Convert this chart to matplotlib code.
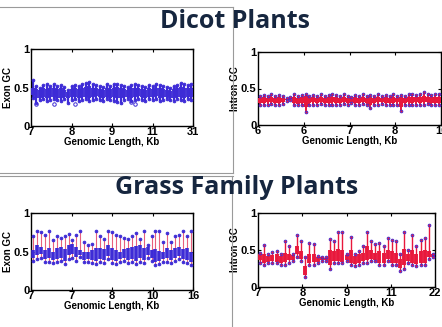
import numpy as np
import matplotlib.pyplot as plt

# Dicot exon GC per length bin (compact box plot: whisker low, q1, q3, whisker high)
dicot_exon_lo = [0.37, 0.30, 0.34, 0.35, 0.33, 0.34, 0.35, 0.34, 0.33, 0.35, 0.30, 0.34, 0.35, 0.33, 0.34, 0.35,
                 0.33, 0.34, 0.35, 0.34, 0.33, 0.35, 0.34, 0.33, 0.31, 0.30, 0.34, 0.35, 0.33, 0.34, 0.35, 0.34,
                 0.33, 0.35, 0.34, 0.35, 0.33, 0.34, 0.35, 0.34, 0.33, 0.35, 0.34, 0.33, 0.35, 0.34]
dicot_exon_q1 = [0.40, 0.37, 0.37, 0.38, 0.37, 0.38, 0.38, 0.37, 0.37, 0.38, 0.37, 0.38, 0.38, 0.37, 0.38, 0.38,
                 0.37, 0.38, 0.39, 0.38, 0.37, 0.38, 0.37, 0.38, 0.37, 0.36, 0.38, 0.38, 0.37, 0.38, 0.39, 0.38,
                 0.37, 0.38, 0.38, 0.39, 0.37, 0.38, 0.38, 0.37, 0.37, 0.38, 0.38, 0.37, 0.38, 0.38]
dicot_exon_q3 = [0.50, 0.48, 0.47, 0.49, 0.48, 0.49, 0.50, 0.48, 0.49, 0.47, 0.44, 0.48, 0.49, 0.48, 0.50, 0.51,
                 0.52, 0.50, 0.49, 0.48, 0.47, 0.49, 0.48, 0.50, 0.51, 0.50, 0.48, 0.47, 0.49, 0.50, 0.49, 0.48,
                 0.47, 0.49, 0.48, 0.50, 0.49, 0.48, 0.47, 0.46, 0.48, 0.49, 0.51, 0.50, 0.49, 0.50]
dicot_exon_hi = [0.60, 0.52, 0.50, 0.53, 0.54, 0.52, 0.54, 0.52, 0.53, 0.51, 0.47, 0.52, 0.53, 0.52, 0.55, 0.56,
                 0.57, 0.54, 0.53, 0.52, 0.51, 0.54, 0.52, 0.55, 0.55, 0.53, 0.52, 0.51, 0.53, 0.54, 0.53, 0.52,
                 0.51, 0.53, 0.52, 0.54, 0.53, 0.52, 0.51, 0.50, 0.52, 0.53, 0.56, 0.54, 0.53, 0.55]
dicot_exon_out_idx = [1, 6, 12, 28, 29]
dicot_exon_out_val = [0.29, 0.29, 0.29, 0.31, 0.29]
dicot_exon_ticks = ['7', '8', '9', '11', '31']

# Dicot intron GC
dicot_intron_lo = [0.28, 0.27, 0.28, 0.29, 0.28, 0.27, 0.29, 0.33, 0.34, 0.28, 0.27, 0.28, 0.18, 0.27, 0.28, 0.27,
                   0.29, 0.28, 0.27, 0.28, 0.27, 0.28, 0.29, 0.27, 0.30, 0.28, 0.27, 0.29, 0.28, 0.23, 0.27, 0.28,
                   0.29, 0.27, 0.28, 0.27, 0.28, 0.19, 0.27, 0.28, 0.27, 0.28, 0.27, 0.28, 0.29, 0.27, 0.28, 0.27]
dicot_intron_q1 = [0.30, 0.30, 0.31, 0.31, 0.30, 0.30, 0.31, 0.34, 0.35, 0.30, 0.29, 0.30, 0.24, 0.30, 0.31, 0.30,
                   0.31, 0.30, 0.30, 0.31, 0.30, 0.30, 0.31, 0.30, 0.32, 0.30, 0.30, 0.31, 0.30, 0.27, 0.30, 0.31,
                   0.31, 0.30, 0.30, 0.30, 0.31, 0.25, 0.30, 0.31, 0.30, 0.31, 0.30, 0.31, 0.31, 0.30, 0.30, 0.30]
dicot_intron_q3 = [0.37, 0.38, 0.37, 0.38, 0.37, 0.38, 0.37, 0.36, 0.37, 0.38, 0.37, 0.38, 0.40, 0.37, 0.38, 0.37,
                   0.38, 0.37, 0.38, 0.39, 0.38, 0.37, 0.38, 0.37, 0.36, 0.38, 0.37, 0.38, 0.37, 0.38, 0.37, 0.38,
                   0.37, 0.38, 0.37, 0.38, 0.37, 0.38, 0.37, 0.38, 0.39, 0.38, 0.39, 0.40, 0.39, 0.38, 0.39, 0.38]
dicot_intron_hi = [0.40, 0.41, 0.40, 0.42, 0.40, 0.41, 0.40, 0.37, 0.38, 0.42, 0.40, 0.41, 0.43, 0.40, 0.41, 0.40,
                   0.42, 0.40, 0.41, 0.43, 0.41, 0.40, 0.42, 0.40, 0.38, 0.41, 0.40, 0.42, 0.40, 0.41, 0.40, 0.42,
                   0.40, 0.41, 0.40, 0.42, 0.40, 0.41, 0.40, 0.42, 0.43, 0.41, 0.43, 0.45, 0.43, 0.41, 0.43, 0.42]
dicot_intron_ticks = ['6', '6', '7', '8', '10']

# Grass exon GC
grass_exon_lo = [0.38, 0.40, 0.42, 0.36, 0.37, 0.35, 0.36, 0.38, 0.34, 0.40, 0.42, 0.38, 0.43, 0.36, 0.37, 0.35,
                 0.34, 0.36, 0.35, 0.40, 0.35, 0.34, 0.36, 0.38, 0.35, 0.36, 0.34, 0.37, 0.35, 0.42, 0.38, 0.33,
                 0.34, 0.36, 0.37, 0.35, 0.38, 0.40, 0.36, 0.35, 0.32]
grass_exon_q1 = [0.42, 0.45, 0.47, 0.40, 0.41, 0.39, 0.40, 0.42, 0.38, 0.45, 0.47, 0.43, 0.46, 0.39, 0.40, 0.39,
                 0.38, 0.40, 0.39, 0.44, 0.39, 0.38, 0.40, 0.41, 0.39, 0.40, 0.38, 0.41, 0.39, 0.45, 0.41, 0.37,
                 0.38, 0.40, 0.41, 0.39, 0.42, 0.44, 0.40, 0.39, 0.36]
grass_exon_q3 = [0.52, 0.58, 0.56, 0.52, 0.55, 0.50, 0.54, 0.56, 0.53, 0.58, 0.60, 0.56, 0.52, 0.50, 0.49, 0.52,
                 0.55, 0.54, 0.53, 0.58, 0.54, 0.52, 0.50, 0.53, 0.55, 0.56, 0.57, 0.58, 0.55, 0.56, 0.52, 0.53,
                 0.51, 0.50, 0.54, 0.52, 0.55, 0.56, 0.53, 0.55, 0.50]
grass_exon_hi = [0.70, 0.76, 0.75, 0.72, 0.76, 0.65, 0.70, 0.68, 0.70, 0.73, 0.65, 0.72, 0.76, 0.62, 0.58, 0.60,
                 0.76, 0.70, 0.66, 0.76, 0.75, 0.72, 0.70, 0.68, 0.66, 0.70, 0.74, 0.66, 0.76, 0.58, 0.70, 0.76,
                 0.76, 0.62, 0.74, 0.62, 0.70, 0.72, 0.76, 0.70, 0.76]
grass_exon_ticks = ['7', '7', '8', '10', '16']

# Grass intron GC
grass_intron_lo = [0.33, 0.30, 0.32, 0.33, 0.32, 0.30, 0.30, 0.33, 0.35, 0.40, 0.35, 0.14, 0.30, 0.30, 0.32, 0.35,
                   0.35, 0.25, 0.32, 0.32, 0.32, 0.35, 0.30, 0.28, 0.30, 0.32, 0.33, 0.35, 0.35, 0.30, 0.30, 0.35,
                   0.30, 0.30, 0.22, 0.25, 0.32, 0.30, 0.28, 0.30, 0.30, 0.38, 0.40]
grass_intron_q1 = [0.36, 0.33, 0.34, 0.35, 0.34, 0.33, 0.34, 0.36, 0.37, 0.45, 0.38, 0.16, 0.33, 0.34, 0.34, 0.36,
                   0.36, 0.30, 0.35, 0.35, 0.34, 0.37, 0.33, 0.31, 0.33, 0.35, 0.36, 0.38, 0.37, 0.33, 0.33, 0.38,
                   0.33, 0.33, 0.26, 0.30, 0.35, 0.33, 0.31, 0.33, 0.33, 0.40, 0.41]
grass_intron_q3 = [0.44, 0.44, 0.42, 0.43, 0.44, 0.42, 0.46, 0.45, 0.43, 0.55, 0.48, 0.28, 0.45, 0.44, 0.40, 0.40,
                   0.39, 0.50, 0.48, 0.52, 0.50, 0.43, 0.50, 0.42, 0.44, 0.46, 0.55, 0.50, 0.46, 0.48, 0.46, 0.50,
                   0.48, 0.46, 0.38, 0.52, 0.44, 0.50, 0.45, 0.48, 0.50, 0.48, 0.44]
grass_intron_hi = [0.46, 0.57, 0.45, 0.47, 0.48, 0.45, 0.62, 0.55, 0.45, 0.70, 0.62, 0.40, 0.60, 0.58, 0.42, 0.40,
                   0.40, 0.65, 0.62, 0.75, 0.75, 0.45, 0.68, 0.45, 0.48, 0.55, 0.75, 0.62, 0.58, 0.60, 0.55, 0.66,
                   0.64, 0.62, 0.45, 0.74, 0.50, 0.70, 0.55, 0.64, 0.66, 0.84, 0.45]
grass_intron_ticks = ['7', '8', '9', '11', '22']

blue = '#3d2bd6'
red = '#e8183c'
pink = '#e8607e'


def compact_box(ax, lo, q1, q3, hi, box_color, whisker_color, end_face, end_edge, wlw=0.8, blw=2.6):
    pos = np.arange(len(lo))
    ax.vlines(pos, lo, hi, color=whisker_color, lw=wlw, zorder=2)
    ax.vlines(pos, q1, q3, color=box_color, lw=blw, zorder=3)
    ax.plot(pos, hi, ls='none', marker='o', ms=2.0, mfc=end_face, mec=end_edge, mew=0.6, zorder=4)
    ax.plot(pos, lo, ls='none', marker='o', ms=2.0, mfc=end_face, mec=end_edge, mew=0.6, zorder=4)
    return pos


def style_axes(ax, n, ticklabels, ylabel):
    ax.set_xlim(-0.5, n - 0.5)
    ax.set_ylim(0, 1)
    ax.set_xticks(np.linspace(-0.5, n - 0.5, 5))
    ax.set_xticklabels(ticklabels)
    ax.set_yticks([0, 0.5, 1])
    ax.set_yticklabels(['0', '0.5', '1'])
    ax.tick_params(direction='in', length=2, width=0.8, top=True, right=True,
                   labelsize=8, pad=1)
    for lab in ax.get_xticklabels() + ax.get_yticklabels():
        lab.set_fontweight('bold')
    for s in ax.spines.values():
        s.set_linewidth(1.0)
    ax.set_xlabel('Genomic Length, Kb', fontsize=7, labelpad=0, fontweight='bold')
    ax.set_ylabel(ylabel, fontsize=7, labelpad=1, fontweight='bold')


plt.rcParams['font.family'] = ['Liberation Sans', 'DejaVu Sans']

fig = plt.figure(figsize=(4.42, 3.27), dpi=100)
W, H = 442.0, 327.0


def add_axes_px(x0, x1, y0, y1):
    return fig.add_axes([x0 / W, 1 - y1 / H, (x1 - x0) / W, (y1 - y0) / H])


ax1 = add_axes_px(31, 193, 49, 126)
compact_box(ax1, dicot_exon_lo, dicot_exon_q1, dicot_exon_q3, dicot_exon_hi, blue, blue, blue, blue,
            wlw=1.6, blw=2.8)
ax1.plot(dicot_exon_out_idx, dicot_exon_out_val, ls='none', marker='o', ms=2.5, mfc='none', mec=blue, mew=0.7)
style_axes(ax1, len(dicot_exon_lo), dicot_exon_ticks, 'Exon GC')

ax2 = add_axes_px(258, 441, 52, 125)
compact_box(ax2, dicot_intron_lo, dicot_intron_q1, dicot_intron_q3, dicot_intron_hi, red, red, red, blue,
            wlw=1.4, blw=3.0)
style_axes(ax2, len(dicot_intron_lo), dicot_intron_ticks, 'Intron GC')

ax3 = add_axes_px(31, 193, 213, 290)
compact_box(ax3, grass_exon_lo, grass_exon_q1, grass_exon_q3, grass_exon_hi, blue, pink, blue, blue,
            wlw=0.8, blw=2.6)
style_axes(ax3, len(grass_exon_lo), grass_exon_ticks, 'Exon GC')

ax4 = add_axes_px(258, 435, 213, 287)
compact_box(ax4, grass_intron_lo, grass_intron_q1, grass_intron_q3, grass_intron_hi, red, red, red, blue,
            wlw=1.0, blw=2.8)
style_axes(ax4, len(grass_intron_lo), grass_intron_ticks, 'Intron GC')

# slide titles
title_color = '#16263f'
fig.text(235 / W, 1 - 21 / H, 'Dicot Plants', ha='center', va='center', fontsize=18,
         fontweight='bold', color=title_color, family=['Open Sans', 'DejaVu Sans'])
fig.text(237 / W, 1 - 188 / H, 'Grass Family Plants', ha='center', va='center', fontsize=18,
         fontweight='bold', color=title_color, family=['Open Sans', 'DejaVu Sans'])

# gray frame lines around the left screenshots
frame = dict(color='#9a9a9a', lw=0.8, transform=fig.transFigure)
fig.add_artist(plt.Line2D([0, 233 / W], [1 - 7 / H, 1 - 7 / H], **frame))
fig.add_artist(plt.Line2D([233 / W, 233 / W], [1 - 7 / H, 1 - 173 / H], **frame))
fig.add_artist(plt.Line2D([0, 233 / W], [1 - 173 / H, 1 - 173 / H], **frame))
fig.add_artist(plt.Line2D([0, 233 / W], [1 - 175.5 / H, 1 - 175.5 / H], **frame))
fig.add_artist(plt.Line2D([232 / W, 232 / W], [1 - 175.5 / H, 0], **frame))

fig.savefig('out.png', dpi=100)
